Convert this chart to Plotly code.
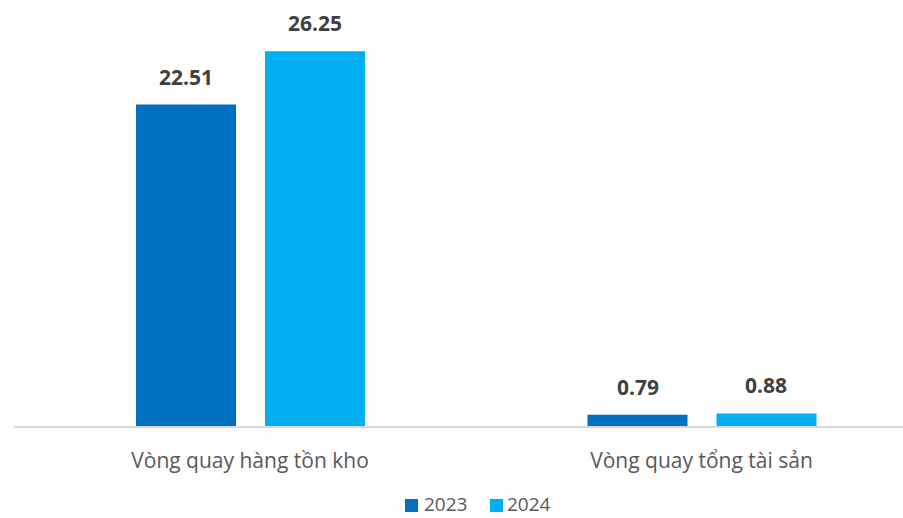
import plotly.graph_objects as go

categories = ["Vòng quay hàng tồn kho", "Vòng quay tổng tài sản"]
series_names = ["2023", "2024"]
values_2023 = [22.51, 0.79]
values_2024 = [26.25, 0.88]
colors = ["#0070C0", "#00B0F0"]

bar_width = 0.2215
offsets = [-0.2525, 0.0332]

W, H = 903, 518
ML, MR, MT, MB = 14, 0, 10, 92
PW, PH = W - ML - MR, H - MT - MB


def px_x(p):
    return (p - ML) / PW


def px_y(p):
    return (H - MB - p) / PH


fig = go.Figure()
for name, vals, col, off in zip(series_names, [values_2023, values_2024], colors, offsets):
    fig.add_trace(go.Bar(
        x=categories, y=vals, name=name, marker_color=col,
        width=bar_width, offset=off, marker_line_width=0,
        hoverinfo="skip", showlegend=False,
    ))

annotations = []
for vals, off in zip([values_2023, values_2024], offsets):
    for i, v in enumerate(vals):
        annotations.append(dict(
            x=i + off + bar_width / 2, y=v, xref="x", yref="y",
            text=f"<b>{v:.2f}</b>", showarrow=False, yanchor="bottom",
            yshift=12, font=dict(family="Open Sans", size=21, color="#404040"),
        ))

# custom legend (square + label) below the plot
shapes = []
legend_items = [(405, 423), (490, 506)]
for (sq_x, tx_x), name, col in zip(legend_items, series_names, colors):
    shapes.append(dict(type="rect", xref="paper", yref="paper",
                       x0=px_x(sq_x), x1=px_x(sq_x + 13),
                       y0=px_y(512), y1=px_y(499),
                       fillcolor=col, line=dict(width=0)))
    annotations.append(dict(x=px_x(tx_x), y=px_y(504), xref="paper", yref="paper",
                            text=name, showarrow=False, xanchor="left", yanchor="middle",
                            borderpad=0,
                            font=dict(family="Open Sans", size=19, color="#595959")))

fig.update_layout(
    width=W, height=H,
    margin=dict(l=ML, r=MR, t=MT, b=MB),
    plot_bgcolor="white", paper_bgcolor="white",
    barmode="overlay",
    showlegend=False,
    annotations=annotations,
    shapes=shapes,
    xaxis=dict(type="category", range=[-0.5227, 1.4463], showgrid=False,
               showline=True, linecolor="#D9D9D9", linewidth=1.5,
               ticks="", tickfont=dict(family="Open Sans", size=21, color="#595959"),
               ticklabelstandoff=15),
    yaxis=dict(range=[0, 29.13], visible=False, showgrid=False, zeroline=False),
)
fig.write_html("out.html", config={"displayModeBar": False},
               post_script="document.body.style.margin='0';")
